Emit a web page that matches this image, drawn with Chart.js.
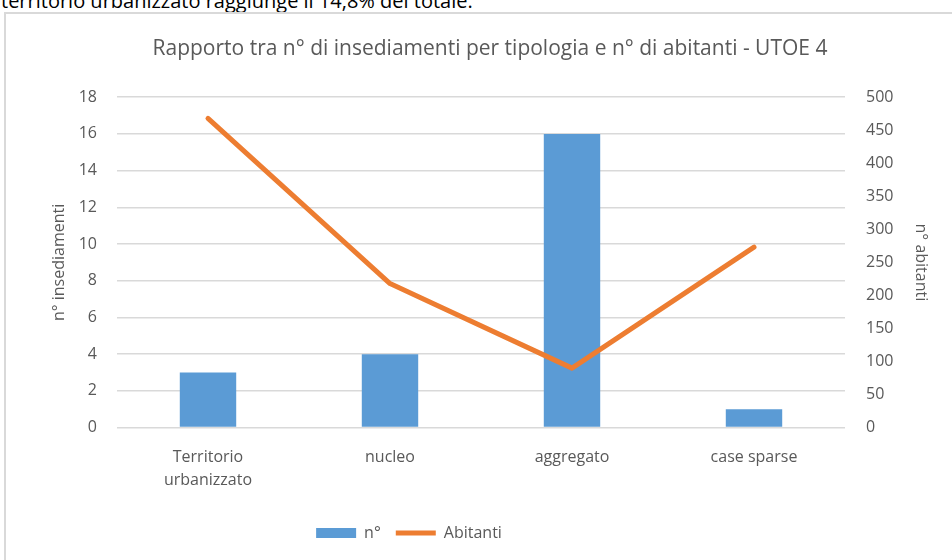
<!DOCTYPE html>
<html>
<head>
<meta charset="utf-8">
<script src="https://cdn.jsdelivr.net/npm/chart.js@4.4.1/dist/chart.umd.min.js"></script>
<style>
  body { margin: 0; background: #fff; width: 952px; height: 560px; overflow: hidden; position: relative; }
  #intro { position: absolute; left: 1px; top: -13px; font: 20px 'Open Sans', sans-serif; color: #000; white-space: nowrap; }
  #box { position: absolute; left: 4px; top: 12px; width: 970px; height: 570px; border: 2px solid #d9d9d9; }
  #wrap { position: absolute; left: 0; top: 0; width: 952px; height: 560px; }
</style>
</head>
<body>
<div id="intro">territorio urbanizzato raggiunge il 14,8% del totale.</div>
<div id="box"></div>
<div id="wrap"><canvas id="chart"></canvas></div>
<script>
// dati
const categories = [['Territorio', 'urbanizzato'], 'nucleo', 'aggregato', 'case sparse'];
const insediamenti = [3, 4, 16, 1];
const abitanti = [468, 218, 90, 273];

const grey = '#595959';
const font = { family: "'Open Sans', sans-serif", size: 16 };

// la legenda di Excel non e' centrata sull'intera larghezza
const legendShift = {
    id: 'legendShift',
    afterLayout(chart) {
        const lg = chart.legend;
        if (lg) {
            lg.right -= 162;
        }
    }
};

const data = {
    labels: categories,
    datasets: [
        {
            type: 'bar',
            label: 'n°',
            data: insediamenti,
            backgroundColor: '#5b9bd5',
            yAxisID: 'y',
            categoryPercentage: 1,
            barPercentage: 0.31,
            pointStyle: 'rect',
            order: 2
        },
        {
            type: 'line',
            label: 'Abitanti',
            data: abitanti,
            borderColor: '#ed7d31',
            backgroundColor: '#ed7d31',
            borderWidth: 5,
            pointRadius: 0,
            borderCapStyle: 'round',
            borderJoinStyle: 'round',
            pointStyle: 'line',
            yAxisID: 'y1',
            order: 1
        }
    ]
};

const options = {
    responsive: true,
    maintainAspectRatio: false,
    animation: false,
    layout: {
        padding: { top: 36, left: 46, right: 18, bottom: 9 }
    },
    plugins: {
        title: {
            display: true,
            text: 'Rapporto tra n° di insediamenti per tipologia e n° di abitanti - UTOE 4',
            color: grey,
            font: { family: "'Open Sans', sans-serif", size: 21, weight: 'normal' },
            padding: { top: 0, bottom: 36 }
        },
        legend: {
            display: true,
            position: 'bottom',
            labels: {
                sort: (a, b) => a.datasetIndex - b.datasetIndex,
                color: grey,
                font: font,
                usePointStyle: true,
                pointStyleWidth: 40,
                boxHeight: 10,
                padding: 15
            }
        },
        tooltip: { enabled: false }
    },
    scales: {
        x: {
            grid: { display: false, drawTicks: false },
            border: { display: false },
            ticks: { color: grey, font: { family: font.family, size: 16, lineHeight: 1.45 }, padding: 18, maxRotation: 0 }
        },
        y: {
            position: 'left',
            min: 0,
            max: 18,
            afterFit(scale) { scale.width = 71; },
            grid: { color: '#d9d9d9', lineWidth: 1.5, drawTicks: false },
            border: { display: false },
            ticks: { stepSize: 2, color: grey, font: font, padding: 20 },
            title: { display: true, text: 'n° insediamenti', color: grey, font: font, padding: 4 }
        },
        y1: {
            position: 'right',
            min: 0,
            max: 500,
            afterFit(scale) { scale.width = 89; },
            grid: { display: false, drawTicks: false },
            border: { display: false },
            ticks: { stepSize: 50, color: grey, font: font, padding: 21 },
            title: { display: true, text: 'n° abitanti', color: grey, font: font, padding: 4 }
        }
    }
};

new Chart(document.getElementById('chart').getContext('2d'), {
    type: 'bar',
    data: data,
    options: options,
    plugins: [legendShift]
});
</script>
</body>
</html>
